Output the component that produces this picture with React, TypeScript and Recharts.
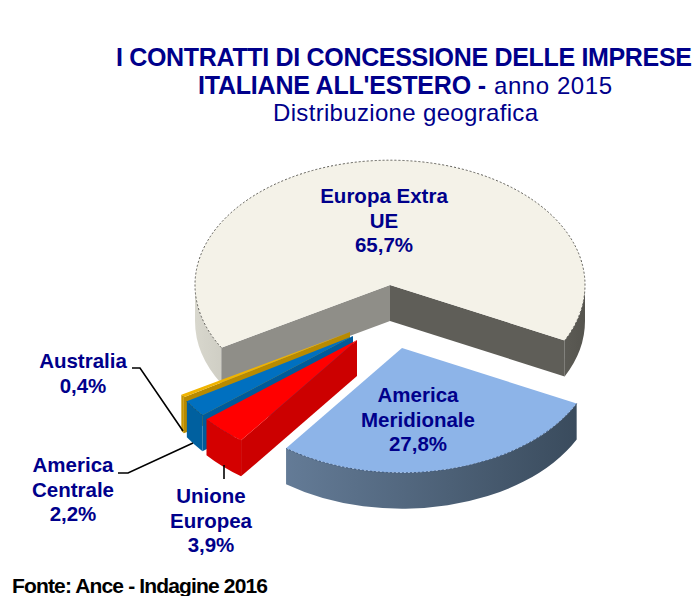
import { PieChart, Pie, Sector } from "recharts";

const sliceNames = ["Europa Extra UE", "Australia", "America Centrale", "Unione Europea", "America Meridionale"];
const sliceValues = [65.7, 0.4, 2.2, 3.9, 27.8];
const sliceLabels = [
  ["Europa Extra", "UE"],
  ["Australia"],
  ["America", "Centrale"],
  ["Unione", "Europea"],
  ["America", "Meridionale"],
];

const data = sliceNames.map((name, i) => ({ name, value: sliceValues[i] }));

// look of the fake 3D pie
const SQUASH = 0.64;
const DEPTH = 36;
const NAVY = "#00008b";
const FONT = "'Liberation Sans', Arial, sans-serif";

const explode = [
  [0, 0],
  [-40, 47],
  [-37, 51],
  [-33, 55],
  [12, 63],
];
const tops = ["#f4f2e8", "#f0b400", "#0070c0", "#ff0000", "#8db4e8"];
const cutLow = ["#5f5e58", "#b88a00", "#005a9a", "#c80000", "#3c5068"];
const cutHigh = ["#8f8e88", "#b88a00", "#005a9a", "#cc0000", "#6f88a8"];
const wallFrom = ["#d8d7cd", "#c89600", "#00609f", "#d40000", "#6f88a6"];
const wallTo = ["#55544e", "#c89600", "#00609f", "#d40000", "#374859"];
const edges = ["#5c5b55", "#a07800", "#00508a", "#d00000", "#3f5a80"];

// centre x and baseline of first line for each label
const labelSpots = [
  [384, 203],
  [83, 368],
  [73, 472],
  [211, 503],
  [418, 402],
];
const leaders: (number[][] | null)[] = [
  null,
  [[132, 368], [140, 368], [183, 431]],
  [[118, 473], [128, 473], [193, 443]],
  [[224, 465], [224, 479]],
  null,
];

const rad = (a: number) => (a * Math.PI) / 180;

function Slice3D(props: any) {
  const { cx, cy, outerRadius: r, startAngle, endAngle, index } = props;
  const low = Math.min(startAngle, endAngle);
  const high = Math.max(startAngle, endAngle);
  const [dx, dy] = explode[index];
  const ox = cx + dx;
  const oy = cy + dy;
  const ry = r * SQUASH;
  const px = (a: number) => ox + r * Math.cos(rad(a));
  const py = (a: number) => oy - ry * Math.sin(rad(a));
  const gradId = `wall-${index}`;

  // the lower half of the rim is what faces the viewer
  const walls: string[] = [];
  [-180, 180].forEach((from) => {
    const a = Math.max(low, from);
    const b = Math.min(high, from + 180);
    if (b <= a) return;
    walls.push(
      `M${px(b)} ${py(b)} A${r} ${ry} 0 0 1 ${px(a)} ${py(a)} L${px(a)} ${py(a) + DEPTH} A${r} ${ry} 0 0 0 ${px(b)} ${py(b) + DEPTH} Z`
    );
  });
  const rim = `M${px(high)} ${py(high)} A${r} ${ry} 0 ${high - low > 180 ? 1 : 0} 1 ${px(low)} ${py(low)}`;

  const cut = (a: number) =>
    `M${ox} ${oy} L${px(a)} ${py(a)} L${px(a)} ${py(a) + DEPTH} L${ox} ${oy + DEPTH} Z`;
  const showLow = Math.sin(rad(low - 90)) < 0;
  const showHigh = Math.sin(rad(high + 90)) < 0;

  return (
    <g>
      <defs>
        <linearGradient id={gradId} gradientUnits="userSpaceOnUse" x1={ox - r} x2={ox + r} y1={0} y2={0}>
          <stop offset="0%" stopColor={wallFrom[index]} />
          <stop offset="100%" stopColor={wallTo[index]} />
        </linearGradient>
      </defs>
      {walls.map((d) => (
        <path key={d} d={d} fill={`url(#${gradId})`} />
      ))}
      {showLow && <path d={cut(low)} fill={cutLow[index]} />}
      {showHigh && <path d={cut(high)} fill={cutHigh[index]} />}
      <g transform={`translate(${ox} ${oy}) scale(1 ${SQUASH}) translate(${-cx} ${-cy})`}>
        <Sector
          cx={cx}
          cy={cy}
          innerRadius={0}
          outerRadius={r}
          startAngle={startAngle}
          endAngle={endAngle}
          fill={tops[index]}
          stroke="none"
        />
      </g>
      <path d={rim} fill="none" stroke={edges[index]} strokeWidth={1} strokeDasharray="2 2" />
    </g>
  );
}

function SliceLabel(props: any) {
  const { index, value } = props;
  const [x, y] = labelSpots[index];
  const lines = [...sliceLabels[index], value.toFixed(1).replace(".", ",") + "%"];
  const leader = leaders[index];
  return (
    <g>
      {leader && (
        <polyline points={leader.map((p) => p.join(",")).join(" ")} fill="none" stroke="#000" strokeWidth={1.6} />
      )}
      {lines.map((t, i) => (
        <text
          key={i}
          x={x}
          y={y + i * 24.5}
          textAnchor="middle"
          fontFamily={FONT}
          fontWeight="bold"
          fontSize={20.5}
          fill={NAVY}
        >
          {t}
        </text>
      ))}
    </g>
  );
}

export default function App() {
  return (
    <div style={{ position: "absolute", left: 0, top: 0, width: 695, height: 596, background: "#fff" }}>
      <PieChart width={695} height={596} margin={{ top: 0, right: 0, bottom: 0, left: 0 }}>
        <Pie
          data={data}
          dataKey="value"
          nameKey="name"
          cx={390}
          cy={285}
          innerRadius={0}
          outerRadius={195}
          startAngle={-26.4}
          endAngle={333.6}
          stroke="none"
          shape={Slice3D}
          label={SliceLabel}
          labelLine={false}
          isAnimationActive={false}
        />
      </PieChart>
      <svg width={695} height={596} style={{ position: "absolute", left: 0, top: 0, pointerEvents: "none" }} fontFamily={FONT}>
        <text x={116} y={66} fontSize={25} fontWeight="bold" fill={NAVY} textLength={576}>
          I CONTRATTI DI CONCESSIONE DELLE IMPRESE
        </text>
        <text x={198} y={94} fontSize={25} fontWeight="bold" fill={NAVY} textLength={288}>
          ITALIANE ALL'ESTERO -
        </text>
        <text x={494} y={94} fontSize={24} fill={NAVY} textLength={118}>
          anno 2015
        </text>
        <text x={273} y={121} fontSize={24} fill={NAVY} textLength={265}>
          Distribuzione geografica
        </text>
        <text x={12} y={593} fontSize={21} fontWeight="bold" fill="#000" textLength={256}>
          Fonte: Ance - Indagine 2016
        </text>
      </svg>
    </div>
  );
}
